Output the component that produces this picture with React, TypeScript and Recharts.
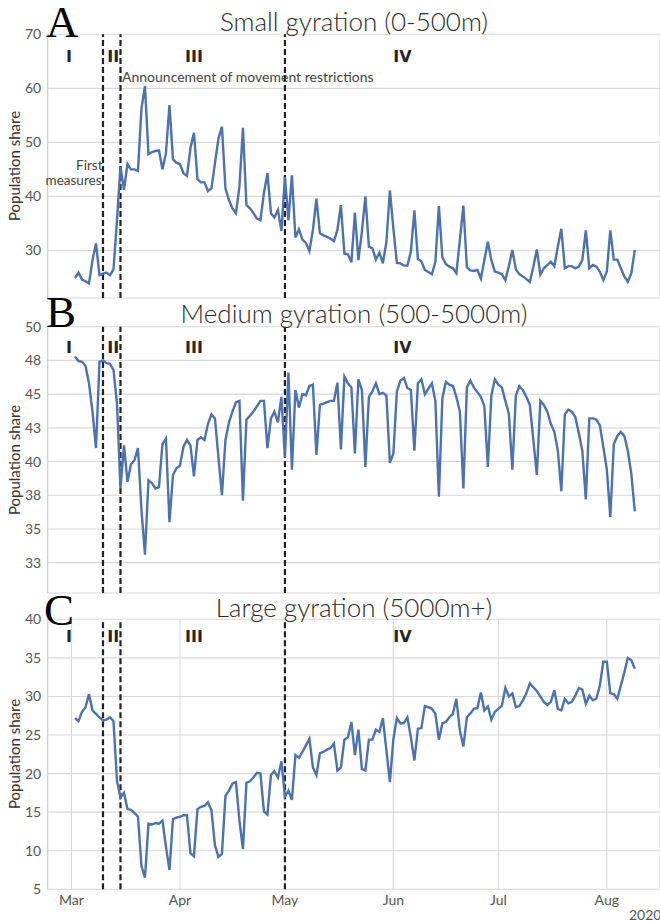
import React from 'react'
import { LineChart, Line, XAxis, YAxis, CartesianGrid, ReferenceLine } from 'recharts'

// x values are days since 1 Mar 2020; the series start on 2 Mar
const FIRST_DAY = 1
const MONTH_TICKS = [0, 31, 61, 92, 122, 153]
const MONTH_LABELS = ['Mar', 'Apr', 'May', 'Jun', 'Jul', 'Aug']
const PHASE_BREAKS = [9, 14, 61]

const SMALL = [
  24.9, 25.9, 24.6, 24.3, 23.9, 28.2, 31.3, 25.4, 25.7, 25.9,
  25.4, 26.5, 35.6, 45.5, 41.2, 46.0, 45.0, 45.0, 44.7, 56.3,
  60.4, 47.8, 48.2, 48.4, 48.5, 45.0, 48.0, 56.9, 46.9, 46.2,
  46.0, 44.3, 43.8, 48.9, 51.8, 43.2, 42.6, 42.6, 41.0, 41.5,
  46.1, 50.7, 52.9, 41.5, 39.3, 37.8, 36.9, 41.8, 52.7, 38.4,
  37.8, 36.9, 35.9, 35.6, 40.6, 44.3, 36.9, 36.1, 37.5, 33.6,
  43.6, 35.6, 43.9, 32.4, 33.9, 32.0, 31.4, 29.9, 33.8, 39.6,
  33.2, 32.8, 32.5, 32.2, 31.7, 33.8, 38.4, 29.4, 29.3, 27.8,
  37.0, 28.2, 33.5, 40.0, 30.7, 30.4, 28.3, 29.6, 27.6, 31.6,
  41.1, 34.0, 27.7, 27.6, 27.2, 27.2, 29.8, 37.4, 28.4, 28.0,
  26.4, 26.0, 25.6, 27.9, 38.2, 28.7, 27.5, 27.0, 26.7, 25.8,
  31.9, 38.3, 26.9, 26.3, 26.2, 26.4, 24.8, 28.2, 31.6, 28.2,
  26.1, 25.9, 25.6, 24.5, 27.1, 30.1, 26.5, 25.6, 25.2, 24.7,
  24.2, 27.0, 30.2, 25.5, 26.7, 27.3, 27.9, 27.1, 30.7, 34.0,
  26.7, 27.1, 27.1, 26.7, 27.0, 28.2, 33.7, 26.7, 27.3, 27.0,
  26.1, 24.5, 26.1, 33.7, 28.3, 28.3, 26.7, 25.2, 24.2, 25.8,
  30.1,
]

const MEDIUM = [
  47.8, 47.45, 47.4, 47.1, 45.8, 43.7, 41.0, 47.4, 47.5, 47.3,
  47.25, 46.8, 44.3, 38.0, 41.2, 38.5, 39.8, 40.1, 41.0, 36.4,
  33.1, 38.6, 38.4, 38.0, 38.1, 41.3, 41.7, 35.5, 39.0, 39.5,
  39.7, 41.1, 41.6, 41.2, 38.9, 41.6, 41.8, 41.6, 42.8, 43.5,
  43.2, 40.3, 37.5, 41.6, 42.9, 43.7, 44.4, 44.5, 37.1, 43.1,
  43.4, 43.7, 44.1, 44.5, 44.5, 41.0, 43.2, 43.7, 42.9, 44.8,
  40.3, 46.6, 39.4, 45.3, 44.0, 45.0, 44.9, 45.6, 45.7, 40.5,
  44.2, 44.3, 44.4, 44.5, 44.5, 45.85, 40.9, 46.3, 45.8, 45.5,
  40.6, 46.1, 45.3, 39.6, 44.8, 45.2, 45.8, 45.0, 45.1, 44.9,
  39.9, 40.6, 45.2, 46.0, 46.2, 45.45, 45.3, 40.8, 45.8, 46.1,
  45.0, 45.4, 45.8, 44.5, 37.4, 44.7, 45.9, 45.7, 45.6, 44.8,
  43.7, 38.0, 45.5, 46.0, 45.5, 45.15, 44.8, 44.1, 39.6, 44.9,
  46.1, 45.7, 45.5, 44.5, 43.55, 39.4, 44.9, 45.6, 45.3, 44.8,
  44.2, 41.6, 39.0, 44.5, 44.2, 43.7, 42.8, 42.2, 40.8, 37.8,
  43.5, 43.85, 43.7, 43.3, 42.1, 40.8, 37.2, 43.2, 43.2, 43.1,
  42.7, 41.1, 39.4, 35.9, 41.3, 41.9, 42.2, 41.9, 40.8, 39.1,
  36.3,
]

const LARGE = [
  27.2, 26.8, 28.0, 28.6, 30.3, 28.2, 27.75, 27.3, 26.9, 27.0,
  27.3, 26.8, 19.1, 16.9, 17.5, 15.4, 15.3, 14.9, 14.4, 8.0,
  6.5, 13.5, 13.4, 13.6, 13.5, 13.9, 10.5, 7.5, 14.1, 14.3,
  14.4, 14.6, 14.6, 9.7, 9.3, 15.4, 15.7, 15.8, 16.3, 15.2,
  10.7, 9.2, 9.6, 17.1, 17.8, 18.7, 18.9, 13.9, 10.2, 18.8,
  19.0, 19.5, 20.1, 20.0, 15.1, 14.7, 19.8, 20.3, 19.5, 21.6,
  17.0, 17.8, 16.6, 22.4, 22.05, 22.8, 23.65, 24.5, 20.8, 19.8,
  22.65, 22.8, 23.1, 23.3, 23.9, 20.4, 20.8, 24.4, 24.7, 26.7,
  22.4, 25.7, 20.6, 20.4, 24.4, 24.4, 25.7, 25.4, 27.2, 23.0,
  18.9, 24.5, 27.2, 26.5, 26.55, 27.3, 24.7, 21.7, 25.8, 25.9,
  28.75, 28.6, 28.4, 27.75, 24.4, 26.5, 26.7, 27.3, 27.75, 29.7,
  25.6, 23.5, 27.3, 27.8, 28.4, 28.5, 30.5, 28.2, 28.7, 27.0,
  28.0, 28.4, 28.8, 31.1, 30.0, 30.4, 28.6, 28.75, 29.5, 30.4,
  31.7, 31.2, 30.7, 30.0, 29.3, 28.9, 29.3, 30.8, 28.4, 28.2,
  29.7, 29.1, 29.3, 30.1, 31.1, 30.9, 29.05, 30.1, 29.5, 29.7,
  31.4, 34.5, 34.5, 30.4, 30.3, 29.7, 31.4, 33.1, 35.0, 34.7,
  33.6,
]

const SMALL_TICKS = [30, 40, 50, 60, 70]
const SMALL_TICK_LABELS = ['30', '40', '50', '60', '70']
const MEDIUM_TICKS = [32.5, 35, 37.5, 40, 42.5, 45, 47.5, 50]
const MEDIUM_TICK_LABELS = ['33', '35', '38', '40', '43', '45', '48', '50']
const LARGE_TICKS = [5, 10, 15, 20, 25, 30, 35, 40]
const LARGE_TICK_LABELS = ['5', '10', '15', '20', '25', '30', '35', '40']

const data = SMALL.map((v, i) => ({
  day: FIRST_DAY + i,
  small: v,
  medium: MEDIUM[i],
  large: LARGE[i],
}))

const BLUE = '#4c72b0'
const GRID = '#d8d8d8'
const TICK = { fontSize: 14, fill: '#555', fontFamily: 'Lato' }

interface PanelProps {
  dataKey: 'small' | 'medium' | 'large'
  domain: [number, number]
  ticks: number[]
  tickLabels: string[]
  height: number
  top: number
  marginTop: number
  marginBottom: number
  showX: boolean
}

function Panel({ dataKey, domain, ticks, tickLabels, height, top, marginTop, marginBottom, showX }: PanelProps) {
  return (
    <div style={{ position: 'absolute', left: 0, top }}>
      <LineChart
        width={660}
        height={height}
        data={data}
        margin={{ top: marginTop, right: 0, bottom: marginBottom, left: 0 }}
      >
        <CartesianGrid stroke={GRID} strokeWidth={1.1} />
        <XAxis
          dataKey="day"
          type="number"
          domain={[-6.8, 168.2]}
          allowDataOverflow
          ticks={MONTH_TICKS}
          tickFormatter={(v: number) => MONTH_LABELS[MONTH_TICKS.indexOf(v)]}
          axisLine={false}
          tickLine={false}
          tickSize={0}
          tickMargin={6}
          tick={showX ? TICK : false}
          height={showX ? 31.7 : 0}
        />
        <YAxis
          type="number"
          domain={domain}
          allowDataOverflow
          ticks={ticks}
          tickFormatter={(v: number) => tickLabels[ticks.indexOf(v)]}
          axisLine={{ stroke: '#cfcfcf' }}
          tickLine={false}
          tickSize={0}
          tickMargin={6.5}
          tick={TICK}
          width={47.7}
        />
        {PHASE_BREAKS.map((d) => (
          <ReferenceLine key={d} x={d} stroke="#222" strokeWidth={2.2} strokeDasharray="6 3" />
        ))}
        <Line
          type="linear"
          dataKey={dataKey}
          stroke={BLUE}
          strokeWidth={2.4}
          dot={false}
          isAnimationActive={false}
        />
      </LineChart>
    </div>
  )
}

const TITLES = ['Small gyration (0-500m)', 'Medium gyration (500-5000m)', 'Large gyration (5000m+)']
const LETTERS = ['A', 'B', 'C']
const PHASES = ['I', 'II', 'III', 'IV']

export default function App() {
  const titleY = [31, 323, 617]
  const letterY = [36.5, 326.5, 625]
  const letterX = [46, 46, 44]
  const phaseY = [61.7, 353.3, 642.3]
  const phaseX = [69, 113.3, 194, 402.5]
  const labelY = [166, 460, 754]

  return (
    <div style={{ position: 'relative', width: 660, height: 921, overflow: 'hidden', background: 'white' }}>
      <style>{'body{margin:0}'}</style>
      <Panel dataKey="small" domain={[21.2, 70]} ticks={SMALL_TICKS} tickLabels={SMALL_TICK_LABELS}
        top={0} height={300} marginTop={34.3} marginBottom={2} showX={false} />
      <Panel dataKey="medium" domain={[30.25, 50]} ticks={MEDIUM_TICKS} tickLabels={MEDIUM_TICK_LABELS}
        top={300} height={300} marginTop={26.7} marginBottom={7} showX={false} />
      <Panel dataKey="large" domain={[5, 40]} ticks={LARGE_TICKS} tickLabels={LARGE_TICK_LABELS}
        top={600} height={321} marginTop={19.3} marginBottom={0} showX />

      <svg width={660} height={921} style={{ position: 'absolute', left: 0, top: 0, pointerEvents: 'none' }}>
        {TITLES.map((t, i) => (
          <text key={t} x={354} y={titleY[i]} textAnchor="middle" fontFamily="Lato" fontWeight={300}
            fontSize={26} fill="#2b2b2b">{t}</text>
        ))}
        {LETTERS.map((l, i) => (
          <text key={l} x={letterX[i]} y={letterY[i]} fontFamily="Liberation Serif" fontSize={45} fill="#000">{l}</text>
        ))}
        {phaseY.map((py) =>
          PHASES.map((p, j) => (
            <text key={py + p} x={phaseX[j]} y={py} textAnchor="middle" fontFamily="DejaVu Sans"
              fontWeight="bold" fontSize={16} fill="#262626">{p}</text>
          ))
        )}
        {labelY.map((ly) => (
          <text key={ly} transform={`translate(19.5, ${ly}) rotate(-90)`} textAnchor="middle"
            fontFamily="Lato" fontSize={15} fill="#333">Population share</text>
        ))}
        <text x={102.5} y={170} textAnchor="end" fontFamily="Lato" fontSize={13.5} fill="#444">First</text>
        <text x={101.5} y={185} textAnchor="end" fontFamily="Lato" fontSize={13.5} fill="#444">measures</text>
        <text x={122} y={81.7} fontFamily="Lato" fontSize={14} fill="#444">Announcement of movement restrictions</text>
        <text x={629} y={920} fontFamily="Lato" fontSize={14} fill="#555">2020</text>
      </svg>
    </div>
  )
}
